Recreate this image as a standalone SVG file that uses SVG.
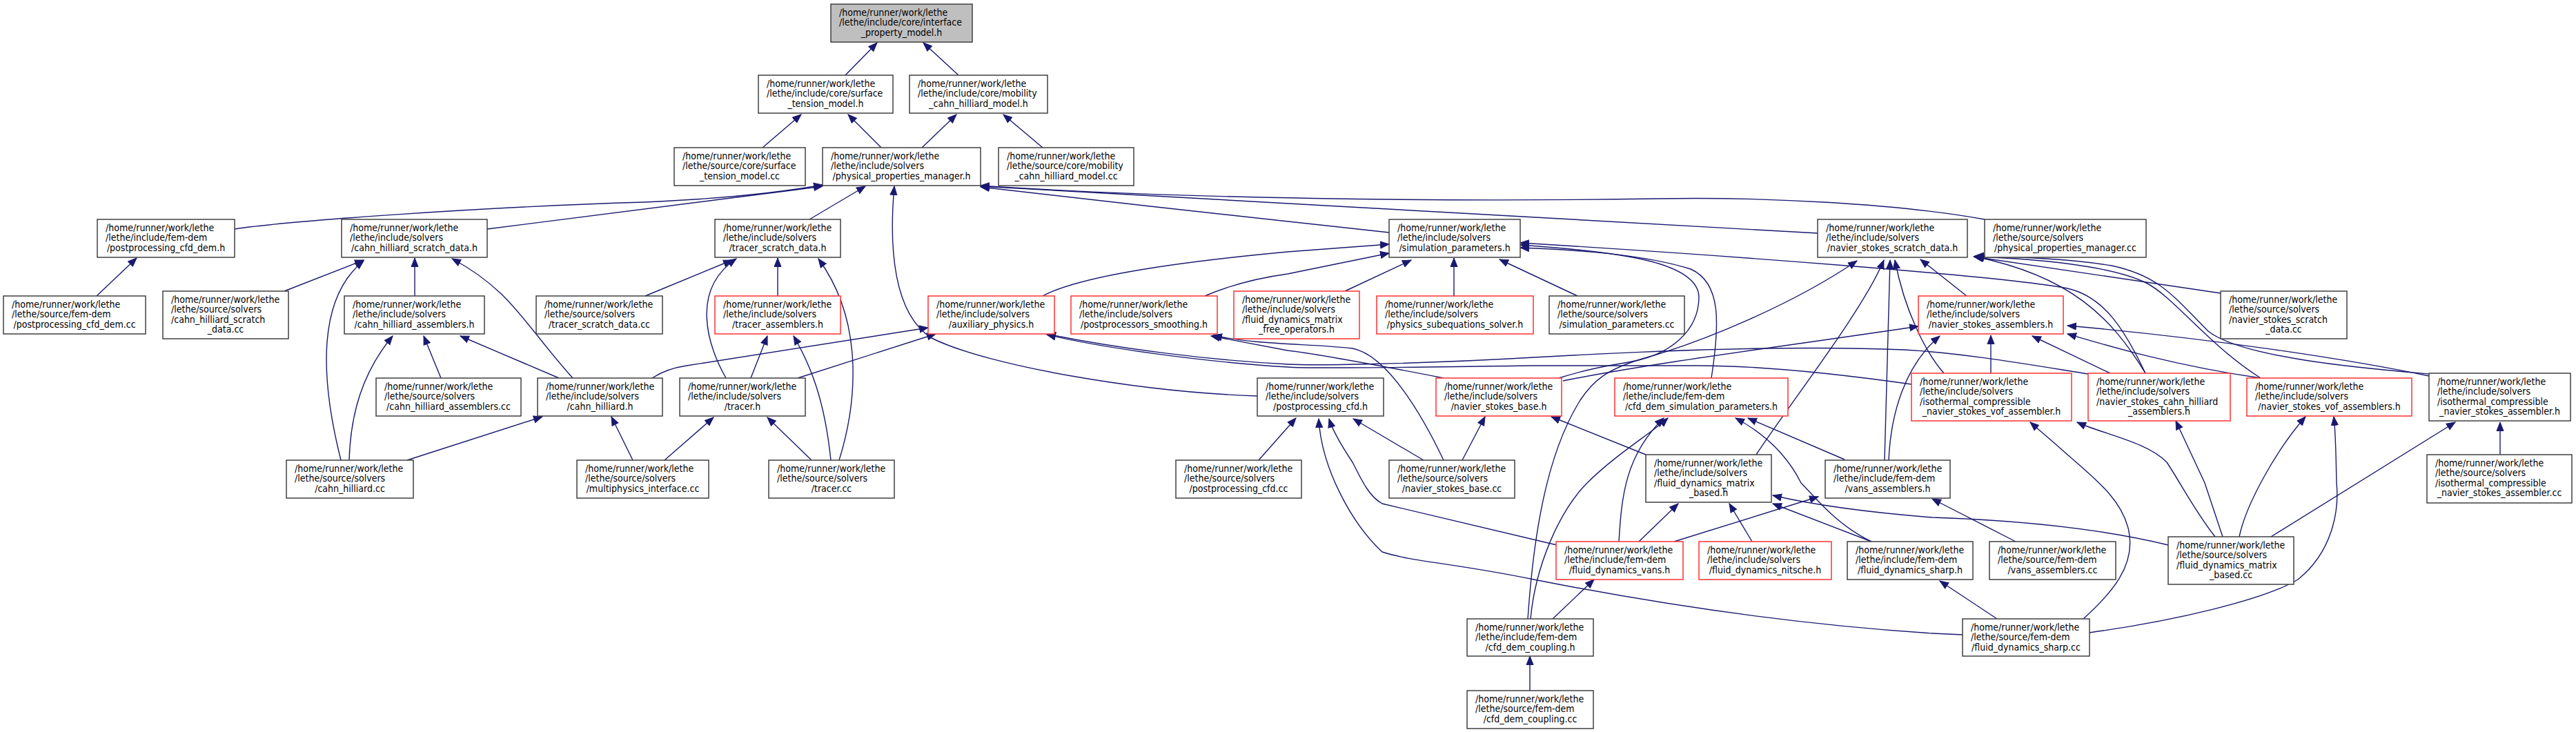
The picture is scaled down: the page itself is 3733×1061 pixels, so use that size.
<svg xmlns="http://www.w3.org/2000/svg" width="3733" height="1061" viewBox="0 0 3733 1061">
<style>
.n rect{fill:#fff;stroke:#404040;stroke-width:1.5}
.n.r rect{stroke:#ff3030}
.n.g rect{fill:#bfbfbf}
text{font-family:"DejaVu Sans Condensed","DejaVu Sans",sans-serif;font-size:14px;fill:#000}
.c{text-anchor:middle}
#edges path{fill:none;stroke:#191970;stroke-width:1.4;marker-end:url(#a)}
</style>
<defs>
<marker id="a" markerUnits="userSpaceOnUse" markerWidth="14" markerHeight="12" refX="13" refY="6" orient="auto"><path d="M0.5,1 L13,6 L0.5,11 z" fill="#191970" stroke="#191970" stroke-width="1"/></marker>
</defs>
<rect width="3733" height="1061" fill="#fff"/>
<g id="edges">
<path d="M1225,109 L1271,62"/>
<path d="M1389,109 L1338,62"/>
<path d="M1105,214 L1161,166"/>
<path d="M1277,214 L1229,166"/>
<path d="M1336,214 L1386,166"/>
<path d="M1511,214 L1454,166"/>
<path d="M1173,318 L1254,270"/>
<path d="M1822,574 C1650,568 1430,530 1350,490 C1295,455 1288,360 1296,270"/>
<path d="M340,332 C420,320 700,300 934,293 C1050,288 1130,279 1192,268"/>
<path d="M706,332 C800,320 1000,295 1192,270"/>
<path d="M2013,337 C1900,325 1600,292 1421,271"/>
<path d="M2634,338 C2300,318 1800,292 1421,270"/>
<path d="M2876,318 C2750,295 2550,285 2400,288 C2100,293 1700,288 1421,269"/>
<path d="M140,429 L198,374"/>
<path d="M412,422 L527,377"/>
<path d="M494,667 C462,540 462,430 527,378"/>
<path d="M601,429 L601,374"/>
<path d="M830,548 C760,470 740,420 655,375"/>
<path d="M810,548 L667,487"/>
<path d="M639,548 L614,487"/>
<path d="M506,667 C508,600 525,540 569,487"/>
<path d="M590,667 L786,604"/>
<path d="M917,667 L886,604"/>
<path d="M935,429 L1061,377"/>
<path d="M1052,548 C1025,500 1000,420 1067,375"/>
<path d="M1127,429 L1127,374"/>
<path d="M1216,667 C1240,590 1255,470 1186,375"/>
<path d="M1088,548 L1112,487"/>
<path d="M1204,667 C1195,580 1175,530 1150,487"/>
<path d="M963,667 L1034,605"/>
<path d="M1176,667 L1112,605"/>
<path d="M945,548 C960,538 975,533 995,530 L1345,475"/>
<path d="M1156,548 L1356,484"/>
<path d="M1511,429 C1550,408 1650,385 1866,365 L2013,354"/>
<path d="M1746,429 C1790,410 1830,402 1866,397 L2013,367"/>
<path d="M1949,422 L2045,377"/>
<path d="M2107,429 L2107,374"/>
<path d="M2286,429 L2173,376"/>
<path d="M2259,548 C2300,535 2330,530 2360,525 C2420,515 2462,480 2462,430 C2460,380 2350,365 2203,355"/>
<path d="M2480,548 C2492,470 2495,410 2450,390 C2380,368 2280,362 2203,359"/>
<path d="M3109,541 C3080,480 3050,430 2996,418 C2900,400 2500,370 2203,352"/>
<path d="M2214,897 C2222,780 2240,660 2290,580 C2310,550 2330,535 2380,520 C2470,495 2600,440 2691,378"/>
<path d="M2265,552 C2400,525 2600,500 2780,473"/>
<path d="M2092,548 C2000,530 1900,512 1866,508 L1755,487"/>
<path d="M2092,667 C2060,600 2010,515 1960,505 C1900,498 1820,500 1758,486"/>
<path d="M3026,542 C2950,530 2850,512 2760,507 C2600,500 2400,508 2223,518 C2050,528 1900,530 1867,528 C1750,522 1620,505 1517,484"/>
<path d="M2770,557 C2650,540 2550,530 2460,530 L2223,530 C2050,532 1900,535 1866,532 C1750,525 1600,505 1517,485"/>
<path d="M1824,667 L1878,606"/>
<path d="M2844,920 L2800,918 C2600,905 2400,875 2223,840 C2100,815 2050,815 2003,800 C1960,760 1915,680 1911,607"/>
<path d="M2256,790 L2003,730 C1985,720 1975,700 1960,670 C1940,640 1930,620 1926,607"/>
<path d="M2063,667 L1961,607"/>
<path d="M2119,667 L2152,604"/>
<path d="M2385,659 L2248,604"/>
<path d="M2545,659 C2590,590 2700,450 2730,377"/>
<path d="M2731,667 L2739,377"/>
<path d="M2817,541 C2790,510 2760,450 2746,377"/>
<path d="M2737,667 C2740,600 2760,530 2811,487"/>
<path d="M2850,429 L2783,376"/>
<path d="M3218,425 L2860,372"/>
<path d="M3276,548 C3200,500 3150,430 3110,410 C3060,385 2950,375 2862,372"/>
<path d="M3520,542 C3440,535 3250,520 3200,480 C3150,430 3130,400 3060,385 C3000,375 2920,372 2862,371"/>
<path d="M3109,541 C3060,460 3000,400 2862,372"/>
<path d="M3520,545 C3400,520 3200,490 2996,472"/>
<path d="M3276,548 C3150,530 3050,500 2996,484"/>
<path d="M2885,541 L2885,486"/>
<path d="M3058,541 L2945,487"/>
<path d="M2346,785 C2350,720 2355,660 2411,606"/>
<path d="M2218,897 C2225,820 2260,740 2300,700 C2340,660 2390,630 2417,606"/>
<path d="M2712,785 C2660,760 2630,720 2610,700 C2590,660 2560,630 2515,606"/>
<path d="M2673,666 L2533,606"/>
<path d="M2375,785 L2432,730"/>
<path d="M2539,785 L2506,730"/>
<path d="M2712,785 L2569,730"/>
<path d="M3142,790 C3060,770 2950,755 2800,750 C2700,742 2620,730 2569,718"/>
<path d="M2426,785 L2635,720"/>
<path d="M2921,785 L2800,723"/>
<path d="M2217,1001 L2217,951"/>
<path d="M2250,897 L2310,840"/>
<path d="M2894,897 L2811,842"/>
<path d="M3019,897 C3060,860 3095,820 3085,770 C3075,720 3030,690 2978,643 L2942,612"/>
<path d="M3210,778 C3180,740 3160,700 3140,670 C3110,640 3050,630 3010,612"/>
<path d="M3221,778 L3195,700 L3153,610"/>
<path d="M3245,778 C3255,730 3300,650 3341,604"/>
<path d="M3028,917 C3150,900 3280,870 3330,840 C3380,800 3390,740 3386,700 C3385,660 3385,630 3382,604"/>
<path d="M3291,778 L3558,612"/>
<path d="M3623,659 L3623,612"/>
</g>
<g id="root" class="n g"><rect x="1204" y="6" width="205" height="55"/><text x="1216" y="22.5">/home/runner/work/lethe</text><text x="1216" y="37">/lethe/include/core/interface</text><text class="c" x="1306.5" y="51.5">_property_model.h</text></g>
<g id="st_h" class="n"><rect x="1099" y="109" width="195" height="55"/><text x="1111" y="125.5">/home/runner/work/lethe</text><text x="1111" y="140">/lethe/include/core/surface</text><text class="c" x="1196.5" y="154.5">_tension_model.h</text></g>
<g id="mob_h" class="n"><rect x="1318" y="109" width="200" height="55"/><text x="1330" y="125.5">/home/runner/work/lethe</text><text x="1330" y="140">/lethe/include/core/mobility</text><text class="c" x="1418" y="154.5">_cahn_hilliard_model.h</text></g>
<g id="st_cc" class="n"><rect x="977" y="214" width="190" height="55"/><text x="989" y="230.5">/home/runner/work/lethe</text><text x="989" y="245">/lethe/source/core/surface</text><text class="c" x="1072" y="259.5">_tension_model.cc</text></g>
<g id="ppm_h" class="n"><rect x="1192" y="214" width="229" height="55"/><text x="1204" y="230.5">/home/runner/work/lethe</text><text x="1204" y="245">/lethe/include/solvers</text><text class="c" x="1306.5" y="259.5">/physical_properties_manager.h</text></g>
<g id="mob_cc" class="n"><rect x="1447" y="214" width="196" height="55"/><text x="1459" y="230.5">/home/runner/work/lethe</text><text x="1459" y="245">/lethe/source/core/mobility</text><text class="c" x="1545" y="259.5">_cahn_hilliard_model.cc</text></g>
<g id="tsd_h" class="n"><rect x="1036" y="318" width="182" height="55"/><text x="1048" y="334.5">/home/runner/work/lethe</text><text x="1048" y="349">/lethe/include/solvers</text><text class="c" x="1127" y="363.5">/tracer_scratch_data.h</text></g>
<g id="ppcd_h" class="n"><rect x="141" y="318" width="199" height="55"/><text x="153" y="334.5">/home/runner/work/lethe</text><text x="153" y="349">/lethe/include/fem-dem</text><text class="c" x="240.5" y="363.5">/postprocessing_cfd_dem.h</text></g>
<g id="chsd_h" class="n"><rect x="495" y="318" width="211" height="55"/><text x="507" y="334.5">/home/runner/work/lethe</text><text x="507" y="349">/lethe/include/solvers</text><text class="c" x="600.5" y="363.5">/cahn_hilliard_scratch_data.h</text></g>
<g id="sp_h" class="n"><rect x="2013" y="318" width="190" height="55"/><text x="2025" y="334.5">/home/runner/work/lethe</text><text x="2025" y="349">/lethe/include/solvers</text><text class="c" x="2108" y="363.5">/simulation_parameters.h</text></g>
<g id="nssd_h" class="n"><rect x="2634" y="318" width="217" height="55"/><text x="2646" y="334.5">/home/runner/work/lethe</text><text x="2646" y="349">/lethe/include/solvers</text><text class="c" x="2742.5" y="363.5">/navier_stokes_scratch_data.h</text></g>
<g id="ppm_cc" class="n"><rect x="2876" y="318" width="234" height="55"/><text x="2888" y="334.5">/home/runner/work/lethe</text><text x="2888" y="349">/lethe/source/solvers</text><text class="c" x="2993" y="363.5">/physical_properties_manager.cc</text></g>
<g id="ppcd_cc" class="n"><rect x="5" y="429" width="206" height="55"/><text x="17" y="445.5">/home/runner/work/lethe</text><text x="17" y="460">/lethe/source/fem-dem</text><text class="c" x="108" y="474.5">/postprocessing_cfd_dem.cc</text></g>
<g id="chsd_cc" class="n"><rect x="236" y="422" width="182" height="69"/><text x="248" y="438.5">/home/runner/work/lethe</text><text x="248" y="453">/lethe/source/solvers</text><text x="248" y="467.5">/cahn_hilliard_scratch</text><text class="c" x="327" y="482">_data.cc</text></g>
<g id="cha_h" class="n"><rect x="499" y="429" width="203" height="55"/><text x="511" y="445.5">/home/runner/work/lethe</text><text x="511" y="460">/lethe/include/solvers</text><text class="c" x="600.5" y="474.5">/cahn_hilliard_assemblers.h</text></g>
<g id="tsd_cc" class="n"><rect x="777" y="429" width="183" height="55"/><text x="789" y="445.5">/home/runner/work/lethe</text><text x="789" y="460">/lethe/source/solvers</text><text class="c" x="868.5" y="474.5">/tracer_scratch_data.cc</text></g>
<g id="cha_cc" class="n"><rect x="545" y="548" width="210" height="55"/><text x="557" y="564.5">/home/runner/work/lethe</text><text x="557" y="579">/lethe/source/solvers</text><text class="c" x="650" y="593.5">/cahn_hilliard_assemblers.cc</text></g>
<g id="ch_h" class="n"><rect x="779" y="548" width="181" height="55"/><text x="791" y="564.5">/home/runner/work/lethe</text><text x="791" y="579">/lethe/include/solvers</text><text class="c" x="869.5" y="593.5">/cahn_hilliard.h</text></g>
<g id="ch_cc" class="n"><rect x="415" y="667" width="184" height="55"/><text x="427" y="683.5">/home/runner/work/lethe</text><text x="427" y="698">/lethe/source/solvers</text><text class="c" x="507" y="712.5">/cahn_hilliard.cc</text></g>
<g id="mpi_cc" class="n"><rect x="836" y="667" width="191" height="55"/><text x="848" y="683.5">/home/runner/work/lethe</text><text x="848" y="698">/lethe/source/solvers</text><text class="c" x="931.5" y="712.5">/multiphysics_interface.cc</text></g>
<g id="ta_h" class="n r"><rect x="1036" y="429" width="182" height="55"/><text x="1048" y="445.5">/home/runner/work/lethe</text><text x="1048" y="460">/lethe/include/solvers</text><text class="c" x="1127" y="474.5">/tracer_assemblers.h</text></g>
<g id="aux_h" class="n r"><rect x="1345" y="429" width="183" height="55"/><text x="1357" y="445.5">/home/runner/work/lethe</text><text x="1357" y="460">/lethe/include/solvers</text><text class="c" x="1436.5" y="474.5">/auxiliary_physics.h</text></g>
<g id="pps_h" class="n r"><rect x="1552" y="429" width="212" height="55"/><text x="1564" y="445.5">/home/runner/work/lethe</text><text x="1564" y="460">/lethe/include/solvers</text><text class="c" x="1658" y="474.5">/postprocessors_smoothing.h</text></g>
<g id="fdmfo_h" class="n r"><rect x="1788" y="422" width="182" height="69"/><text x="1800" y="438.5">/home/runner/work/lethe</text><text x="1800" y="453">/lethe/include/solvers</text><text x="1800" y="467.5">/fluid_dynamics_matrix</text><text class="c" x="1879" y="482">_free_operators.h</text></g>
<g id="tr_h" class="n"><rect x="985" y="548" width="182" height="55"/><text x="997" y="564.5">/home/runner/work/lethe</text><text x="997" y="579">/lethe/include/solvers</text><text class="c" x="1076" y="593.5">/tracer.h</text></g>
<g id="tr_cc" class="n"><rect x="1114" y="667" width="182" height="55"/><text x="1126" y="683.5">/home/runner/work/lethe</text><text x="1126" y="698">/lethe/source/solvers</text><text class="c" x="1205" y="712.5">/tracer.cc</text></g>
<g id="ppc_h" class="n"><rect x="1822" y="548" width="183" height="55"/><text x="1834" y="564.5">/home/runner/work/lethe</text><text x="1834" y="579">/lethe/include/solvers</text><text class="c" x="1913.5" y="593.5">/postprocessing_cfd.h</text></g>
<g id="ppc_cc" class="n"><rect x="1704" y="667" width="182" height="55"/><text x="1716" y="683.5">/home/runner/work/lethe</text><text x="1716" y="698">/lethe/source/solvers</text><text class="c" x="1795" y="712.5">/postprocessing_cfd.cc</text></g>
<g id="pss_h" class="n r"><rect x="1995" y="429" width="227" height="55"/><text x="2007" y="445.5">/home/runner/work/lethe</text><text x="2007" y="460">/lethe/include/solvers</text><text class="c" x="2108.5" y="474.5">/physics_subequations_solver.h</text></g>
<g id="sp_cc" class="n"><rect x="2245" y="429" width="196" height="55"/><text x="2257" y="445.5">/home/runner/work/lethe</text><text x="2257" y="460">/lethe/source/solvers</text><text class="c" x="2343" y="474.5">/simulation_parameters.cc</text></g>
<g id="nsb_h" class="n r"><rect x="2081" y="548" width="182" height="55"/><text x="2093" y="564.5">/home/runner/work/lethe</text><text x="2093" y="579">/lethe/include/solvers</text><text class="c" x="2172" y="593.5">/navier_stokes_base.h</text></g>
<g id="cdsp_h" class="n r"><rect x="2340" y="548" width="251" height="55"/><text x="2352" y="564.5">/home/runner/work/lethe</text><text x="2352" y="579">/lethe/include/fem-dem</text><text class="c" x="2465.5" y="593.5">/cfd_dem_simulation_parameters.h</text></g>
<g id="nsa_h" class="n r"><rect x="2780" y="429" width="210" height="55"/><text x="2792" y="445.5">/home/runner/work/lethe</text><text x="2792" y="460">/lethe/include/solvers</text><text class="c" x="2885" y="474.5">/navier_stokes_assemblers.h</text></g>
<g id="icv_h" class="n r"><rect x="2770" y="541" width="232" height="69"/><text x="2782" y="557.5">/home/runner/work/lethe</text><text x="2782" y="572">/lethe/include/solvers</text><text x="2782" y="586.5">/isothermal_compressible</text><text class="c" x="2886" y="601">_navier_stokes_vof_assembler.h</text></g>
<g id="nsb_cc" class="n"><rect x="2013" y="667" width="182" height="55"/><text x="2025" y="683.5">/home/runner/work/lethe</text><text x="2025" y="698">/lethe/source/solvers</text><text class="c" x="2104" y="712.5">/navier_stokes_base.cc</text></g>
<g id="fdmb_h" class="n"><rect x="2385" y="659" width="182" height="69"/><text x="2397" y="675.5">/home/runner/work/lethe</text><text x="2397" y="690">/lethe/include/solvers</text><text x="2397" y="704.5">/fluid_dynamics_matrix</text><text class="c" x="2476" y="719">_based.h</text></g>
<g id="va_h" class="n"><rect x="2645" y="667" width="181" height="55"/><text x="2657" y="683.5">/home/runner/work/lethe</text><text x="2657" y="698">/lethe/include/fem-dem</text><text class="c" x="2735.5" y="712.5">/vans_assemblers.h</text></g>
<g id="nssd_cc" class="n"><rect x="3218" y="422" width="183" height="69"/><text x="3230" y="438.5">/home/runner/work/lethe</text><text x="3230" y="453">/lethe/source/solvers</text><text x="3230" y="467.5">/navier_stokes_scratch</text><text class="c" x="3309.5" y="482">_data.cc</text></g>
<g id="nsch_h" class="n r"><rect x="3026" y="541" width="206" height="69"/><text x="3038" y="557.5">/home/runner/work/lethe</text><text x="3038" y="572">/lethe/include/solvers</text><text x="3038" y="586.5">/navier_stokes_cahn_hilliard</text><text class="c" x="3129" y="601">_assemblers.h</text></g>
<g id="nsv_h" class="n r"><rect x="3256" y="548" width="239" height="55"/><text x="3268" y="564.5">/home/runner/work/lethe</text><text x="3268" y="579">/lethe/include/solvers</text><text class="c" x="3375.5" y="593.5">/navier_stokes_vof_assemblers.h</text></g>
<g id="icn_h" class="n"><rect x="3520" y="541" width="205" height="69"/><text x="3532" y="557.5">/home/runner/work/lethe</text><text x="3532" y="572">/lethe/include/solvers</text><text x="3532" y="586.5">/isothermal_compressible</text><text class="c" x="3622.5" y="601">_navier_stokes_assembler.h</text></g>
<g id="icn_cc" class="n"><rect x="3517" y="659" width="210" height="70"/><text x="3529" y="675.5">/home/runner/work/lethe</text><text x="3529" y="690">/lethe/source/solvers</text><text x="3529" y="704.5">/isothermal_compressible</text><text class="c" x="3622" y="719">_navier_stokes_assembler.cc</text></g>
<g id="fdv_h" class="n r"><rect x="2255" y="785" width="184" height="55"/><text x="2267" y="801.5">/home/runner/work/lethe</text><text x="2267" y="816">/lethe/include/fem-dem</text><text class="c" x="2347" y="830.5">/fluid_dynamics_vans.h</text></g>
<g id="fdn_h" class="n r"><rect x="2462" y="785" width="192" height="55"/><text x="2474" y="801.5">/home/runner/work/lethe</text><text x="2474" y="816">/lethe/include/solvers</text><text class="c" x="2558" y="830.5">/fluid_dynamics_nitsche.h</text></g>
<g id="fds_h" class="n"><rect x="2677" y="785" width="182" height="55"/><text x="2689" y="801.5">/home/runner/work/lethe</text><text x="2689" y="816">/lethe/include/fem-dem</text><text class="c" x="2768" y="830.5">/fluid_dynamics_sharp.h</text></g>
<g id="cdc_h" class="n"><rect x="2126" y="897" width="183" height="54"/><text x="2138" y="913.5">/home/runner/work/lethe</text><text x="2138" y="928">/lethe/include/fem-dem</text><text class="c" x="2217.5" y="942.5">/cfd_dem_coupling.h</text></g>
<g id="cdc_cc" class="n"><rect x="2126" y="1001" width="183" height="55"/><text x="2138" y="1017.5">/home/runner/work/lethe</text><text x="2138" y="1032">/lethe/source/fem-dem</text><text class="c" x="2217.5" y="1046.5">/cfd_dem_coupling.cc</text></g>
<g id="va_cc" class="n"><rect x="2883" y="785" width="183" height="55"/><text x="2895" y="801.5">/home/runner/work/lethe</text><text x="2895" y="816">/lethe/source/fem-dem</text><text class="c" x="2974.5" y="830.5">/vans_assemblers.cc</text></g>
<g id="fdmb_cc" class="n"><rect x="3142" y="778" width="182" height="69"/><text x="3154" y="794.5">/home/runner/work/lethe</text><text x="3154" y="809">/lethe/source/solvers</text><text x="3154" y="823.5">/fluid_dynamics_matrix</text><text class="c" x="3233" y="838">_based.cc</text></g>
<g id="fds_cc" class="n"><rect x="2844" y="897" width="184" height="54"/><text x="2856" y="913.5">/home/runner/work/lethe</text><text x="2856" y="928">/lethe/source/fem-dem</text><text class="c" x="2936" y="942.5">/fluid_dynamics_sharp.cc</text></g>
</svg>
